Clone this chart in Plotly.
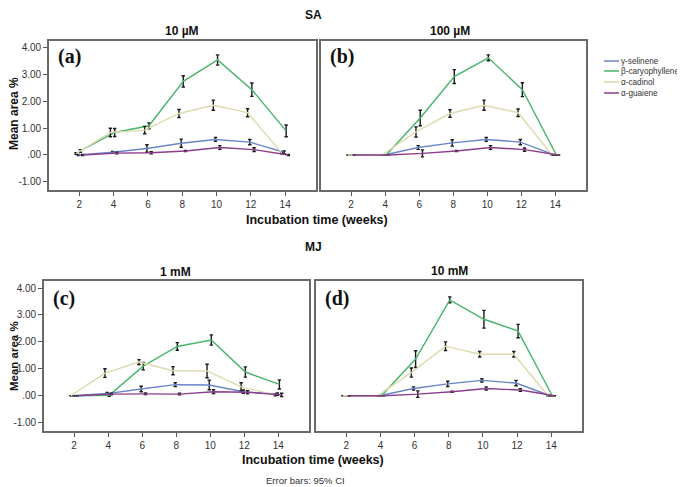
import plotly.graph_objects as go

W, H = 685, 487
OX, OY = 8, 8  # default page body margin

weeks = [2, 4, 6, 8, 10, 12, 14]
series_names = ["γ-selinene", "β-caryophyllene", "α-cadinol", "α-guaiene"]
series_colors = ["#6a84c8", "#46b46a", "#dedaae", "#8c3c8c"]
dodge = [-0.06, 0.06, -0.19, 0.19]

# Panel (a) SA 10 µM
sel_a = [0.00, 0.10, 0.24, 0.44, 0.58, 0.48, 0.10]
sel_a_ci = [0.02, 0.03, 0.14, 0.15, 0.07, 0.10, 0.05]
car_a = [0.15, 0.84, 1.09, 2.75, 3.55, 2.44, 0.90]
car_a_ci = [0.05, 0.15, 0.11, 0.21, 0.19, 0.25, 0.22]
cad_a = [0.05, 0.84, 0.93, 1.55, 1.86, 1.58, 0.07]
cad_a_ci = [0.03, 0.16, 0.14, 0.15, 0.19, 0.15, 0.03]
gua_a = [0.00, 0.07, 0.08, 0.15, 0.28, 0.20, 0.00]
gua_a_ci = [0.02, 0.03, 0.04, 0.02, 0.07, 0.07, 0.02]

# Panel (b) SA 100 µM
sel_b = [0.00, 0.00, 0.28, 0.45, 0.58, 0.48, 0.00]
sel_b_ci = [0.00, 0.00, 0.07, 0.12, 0.07, 0.10, 0.00]
car_b = [0.00, 0.00, 1.38, 2.93, 3.63, 2.44, 0.00]
car_b_ci = [0.00, 0.00, 0.29, 0.26, 0.11, 0.26, 0.00]
cad_b = [0.00, 0.00, 0.86, 1.55, 1.86, 1.58, 0.00]
cad_b_ci = [0.00, 0.00, 0.19, 0.14, 0.19, 0.14, 0.00]
gua_b = [0.00, 0.00, 0.06, 0.15, 0.28, 0.20, 0.00]
gua_b_ci = [0.00, 0.00, 0.13, 0.02, 0.07, 0.06, 0.00]

# Panel (c) MJ 1 mM
sel_c = [0.00, 0.08, 0.25, 0.41, 0.40, 0.15, 0.06]
sel_c_ci = [0.00, 0.04, 0.10, 0.07, 0.18, 0.06, 0.04]
car_c = [0.00, 0.02, 1.10, 1.83, 2.07, 0.88, 0.42]
car_c_ci = [0.00, 0.04, 0.14, 0.14, 0.19, 0.19, 0.17]
cad_c = [0.00, 0.84, 1.25, 0.93, 0.92, 0.33, 0.03]
cad_c_ci = [0.00, 0.16, 0.09, 0.15, 0.25, 0.15, 0.03]
gua_c = [0.00, 0.06, 0.07, 0.06, 0.15, 0.13, 0.03]
gua_c_ci = [0.00, 0.03, 0.03, 0.03, 0.07, 0.06, 0.06]

# Panel (d) MJ 10 mM
sel_d = [0.00, 0.00, 0.27, 0.44, 0.57, 0.47, 0.00]
sel_d_ci = [0.00, 0.00, 0.06, 0.10, 0.06, 0.10, 0.00]
car_d = [0.00, 0.00, 1.36, 3.56, 2.84, 2.40, 0.00]
car_d_ci = [0.00, 0.00, 0.31, 0.11, 0.33, 0.25, 0.00]
cad_d = [0.00, 0.00, 0.86, 1.84, 1.54, 1.54, 0.00]
cad_d_ci = [0.00, 0.00, 0.17, 0.16, 0.10, 0.10, 0.00]
gua_d = [0.00, 0.00, 0.06, 0.15, 0.27, 0.21, 0.00]
gua_d_ci = [0.00, 0.00, 0.12, 0.02, 0.06, 0.05, 0.00]

y_tickvals = [-1, 0, 1, 2, 3, 4]
y_ticktext = ["-1.00", ".00", "1.00", "2.00", "3.00", "4.00"]

panels = [
    ("(a)", [(sel_a, sel_a_ci), (car_a, car_a_ci), (cad_a, cad_a_ci), (gua_a, gua_a_ci)]),
    ("(b)", [(sel_b, sel_b_ci), (car_b, car_b_ci), (cad_b, cad_b_ci), (gua_b, gua_b_ci)]),
    ("(c)", [(sel_c, sel_c_ci), (car_c, car_c_ci), (cad_c, cad_c_ci), (gua_c, gua_c_ci)]),
    ("(d)", [(sel_d, sel_d_ci), (car_d, car_d_ci), (cad_d, cad_d_ci), (gua_d, gua_d_ci)]),
]

# panel boxes in page pixels: left, right, top, bottom
boxes = [(49, 316, 41, 190), (321, 586, 41, 190), (44, 309, 281, 431), (316, 582, 281, 431)]

FW, FH = W - OX, H - OY


def px(x):
    return (x - OX) / FW


def py(y):
    return 1 - (y - OY) / FH


fig = go.Figure()
FONT = "Liberation Sans, Arial, sans-serif"

for i, (lab, data) in enumerate(panels):
    sfx = "" if i == 0 else str(i + 1)
    for k, (vals, ci) in enumerate(data):
        fig.add_trace(go.Scatter(
            x=[w + dodge[k] for w in weeks], y=vals,
            mode="lines",
            line=dict(color=series_colors[k], width=1.4),
            error_y=dict(type="data", array=ci, visible=True, color="#1a1a1a",
                         thickness=1.4, width=1.7),
            xaxis="x" + sfx, yaxis="y" + sfx, showlegend=False,
            name=series_names[k],
        ))
    l, r, t, b = boxes[i]
    left_col = i in (0, 2)
    fig.layout["xaxis" + sfx] = dict(
        domain=[px(l), px(r)], anchor="y" + sfx, range=[0.23, 15.8],
        tickvals=weeks, ticks="outside", ticklen=4, tickcolor="#555",
        showline=True, mirror=True, linecolor="#6a6a6a", linewidth=1.6,
        showgrid=False, zeroline=False,
        tickfont=dict(family=FONT, size=10, color="#333"),
    )
    fig.layout["yaxis" + sfx] = dict(
        domain=[py(b), py(t)], anchor="x" + sfx, range=[-1.31, 4.26],
        tickvals=y_tickvals, ticktext=y_ticktext,
        ticks="outside" if left_col else "", ticklen=4, tickcolor="#555",
        showticklabels=left_col,
        showline=True, mirror=True, linecolor="#6a6a6a", linewidth=1.6,
        showgrid=False, zeroline=False,
        tickfont=dict(family=FONT, size=10, color="#333"),
    )

ann = []


def text(x, y, s, size=12, family=FONT, color="#111", angle=0, xanchor="center"):
    ann.append(dict(x=px(x), y=py(y), xref="paper", yref="paper", text=s, showarrow=False,
                    font=dict(family=family, size=size, color=color), textangle=angle,
                    xanchor=xanchor, yanchor="middle", borderpad=0))


text(313, 15, "<b>SA</b>", 12)
text(182, 31, "<b>10 µM</b>", 12)
text(450, 31, "<b>100 µM</b>", 12)
text(313, 247, "<b>MJ</b>", 12)
text(175, 272, "<b>1 mM</b>", 12)
text(449, 271, "<b>10 mM</b>", 12)
text(317, 220, "<b>Incubation time (weeks)</b>", 12.5)
text(313, 460, "<b>Incubation time (weeks)</b>", 12.5)
text(305, 480, "Error bars: 95% CI", 9.5, color="#333")
text(14, 114, "<b>Mean area %</b>", 12, angle=-90)
text(14, 356, "<b>Mean area %</b>", 11.5, angle=-90)

SERIF = "Liberation Serif, DejaVu Serif, serif"
label_pos = [(57, 57), (329, 57), (52, 298), (324, 298)]
for (lab, _), (lx, ly) in zip(panels, label_pos):
    text(lx, ly, "<b>" + lab + "</b>", 20, family=SERIF, xanchor="left")

shapes = []
leg_y = [61, 71, 82, 93]
for k, name in enumerate(series_names):
    shapes.append(dict(type="line", xref="paper", yref="paper",
                       x0=px(604), x1=px(619), y0=py(leg_y[k]), y1=py(leg_y[k]),
                       line=dict(color=series_colors[k], width=1.5)))
    text(620, leg_y[k], name, 8.2, color="#333", xanchor="left")

fig.update_layout(
    width=FW, height=FH, margin=dict(l=0, r=0, t=0, b=0),
    paper_bgcolor="white", plot_bgcolor="white",
    annotations=ann, shapes=shapes, showlegend=False,
)

fig.write_html("out.html")
